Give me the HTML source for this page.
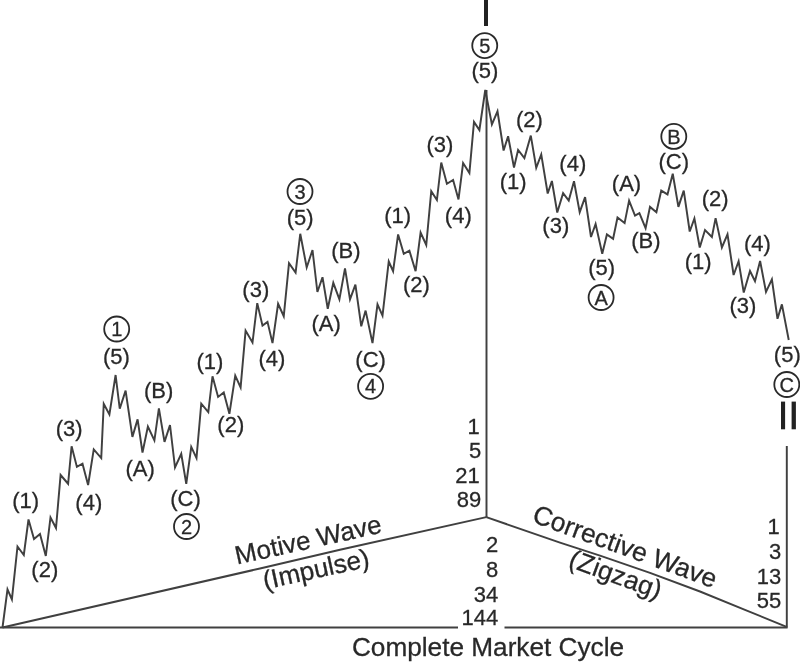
<!DOCTYPE html>
<html lang="en"><head><meta charset="utf-8"><title>Complete Market Cycle</title>
<style>
html,body{margin:0;padding:0;background:#fff;}
body{width:800px;height:663px;overflow:hidden;}
svg{display:block;}
.g{filter:blur(0.75px);}
text{font-family:"Liberation Sans",Arial,Helvetica,sans-serif;fill:#282828;stroke:#282828;stroke-width:0.28px;}
.l{font-size:22px;text-anchor:middle;}
.c{font-size:20px;text-anchor:middle;}
.n{font-size:22px;text-anchor:end;}
.ln{stroke:#404040;stroke-width:1.95;fill:none;}
</style></head><body>
<svg width="800" height="663" viewBox="0 0 800 663">
<rect width="800" height="663" fill="#fff"/>
<g class="g">
<polyline class="ln" stroke-linejoin="miter" points="2.5,627.5 7.5,589.4 11.9,599.4 17.5,546.5 23.8,555 28.5,519.5 34,539 40,534 45.8,556 50.5,517.5 56,528 60.6,475 68.1,483.75 71.6,446.25 76.9,466.9 82.5,463.75 88.1,485 93.75,449.4 101.25,458.1 103.75,403.75 109.4,414.4 115.6,375 119.75,408.75 125.6,390.6 132.4,436.9 137.6,419.4 142.5,452.5 147.9,426.5 154.4,440.3 158.9,408.4 164.5,441.9 170,425 175,467.5 181.25,453.75 186.25,483.75 191.25,446.9 196.5,458.1 201.25,403.75 208.3,412.2 212.5,376.25 218.1,396.9 223.75,392.5 229.4,413.75 235.25,375.6 240.6,387.5 245.6,330.6 252.5,342.5 257.25,303.1 262.5,325.6 267.5,321.9 272.5,343.1 278.1,303.75 283.75,316.25 289,263.1 295.6,272.5 300.25,233.75 306.7,267.5 312.5,250 317.4,292 322.5,277.2 327.75,308.75 333.3,282.8 339.4,299.4 345,268.4 350,299.4 355.4,284.7 361.25,326.25 365.6,310.6 372.5,343.1 377.5,304.4 382.5,315.6 388.75,261.5 393.1,271.25 398.1,234.4 403.75,253.75 409.4,250.6 415.6,271.25 420.6,232.5 426.25,245 431.25,191.25 436.9,200 441.25,162.5 446.9,183.75 453.1,180 458.5,199.4 463.1,163.1 469.4,173.1 474,121.9 479.4,130 485.25,90 491.9,124.4 497.5,111.25 503.6,150.5 508.1,136.3 514,167.5 518.1,150 524.4,158.1 530.8,135.6 536.25,167.8 541.25,154.4 547.7,193.5 551.9,181 557.25,212.5 563.1,193.1 568.75,200.6 574,181.25 579.7,212.2 585.1,197.2 591,237 595.6,224 602.25,253.75 606.9,234.4 613.1,238.75 617.5,217.5 624.6,223.1 629.1,200.6 635,215.6 639.4,213.1 645.6,228.1 650,206.9 656.4,212.2 661.25,190.6 667.5,194.4 672.75,173.75 678.4,206.9 683.75,190.6 689.7,231.5 694.4,218.4 699.75,247.5 705,230 711.9,236.9 715.6,218.1 721.9,247.5 727.5,234.4 733.6,275 738.6,261.25 743.75,292.5 750,271 755,281.25 760.1,261 766,291.9 771.9,279.4 777.5,318.75 781.9,304.4 788.75,340"/>
<line class="ln" x1="486.5" y1="90" x2="486.5" y2="517"/>
<polyline class="ln" points="2.5,627.5 260,568.5 340,549.8 486.3,517.1"/>
<polyline class="ln" points="486.3,517.1 560,542.6 600,555.6 650,572.8 700,591.5 745,609.8 786.6,626.8"/>
<line class="ln" x1="0" y1="627.6" x2="458" y2="627.6" style="stroke-width:2"/>
<line class="ln" x1="504.5" y1="627.6" x2="787.6" y2="627.6" style="stroke-width:2"/>
<line class="ln" x1="786.8" y1="446" x2="786.8" y2="627.5"/>
<rect x="484" y="-6" width="4" height="32" fill="#222"/>
<rect x="781" y="401.6" width="4.1" height="27.7" fill="#222"/>
<rect x="791.6" y="401.6" width="4.3" height="27.7" fill="#222"/>
<text class="l" x="25.6" y="507.5">(1)</text>
<text class="l" x="44.8" y="577.1">(2)</text>
<text class="l" x="69.2" y="436.4">(3)</text>
<text class="l" x="88.8" y="509.6">(4)</text>
<text class="l" x="116.5" y="363.7">(5)</text>
<text class="l" x="140.2" y="475.7">(A)</text>
<text class="l" x="158.6" y="397.8">(B)</text>
<text class="l" x="185.5" y="505.8">(C)</text>
<text class="l" x="210" y="368.7">(1)</text>
<text class="l" x="230.8" y="432.2">(2)</text>
<text class="l" x="255.8" y="296.6">(3)</text>
<text class="l" x="272" y="366.4">(4)</text>
<text class="l" x="300.2" y="224.7">(5)</text>
<text class="l" x="326.2" y="331.3">(A)</text>
<text class="l" x="345.9" y="258.1">(B)</text>
<text class="l" x="370.6" y="366.7">(C)</text>
<text class="l" x="397.7" y="223.3">(1)</text>
<text class="l" x="416.5" y="291.8">(2)</text>
<text class="l" x="440" y="152.3">(3)</text>
<text class="l" x="458.3" y="222.7">(4)</text>
<text class="l" x="485" y="78.1">(5)</text>
<text class="l" x="529.5" y="126.7">(2)</text>
<text class="l" x="513.1" y="188.8">(1)</text>
<text class="l" x="555.8" y="232.8">(3)</text>
<text class="l" x="572.8" y="170.7">(4)</text>
<text class="l" x="601.6" y="274.7">(5)</text>
<text class="l" x="626.5" y="190.7">(A)</text>
<text class="l" x="645.8" y="248.2">(B)</text>
<text class="l" x="673.7" y="168.7">(C)</text>
<text class="l" x="698.2" y="269.4">(1)</text>
<text class="l" x="715.2" y="205.8">(2)</text>
<text class="l" x="743" y="313.0">(3)</text>
<text class="l" x="757.4" y="251.2">(4)</text>
<text class="l" x="787.3" y="361.8">(5)</text>
<circle cx="116.7" cy="329" r="12.5" fill="none" stroke="#2a2a2a" stroke-width="1.8"/><text class="c" x="116.7" y="336.1">1</text>
<circle cx="186.5" cy="526.5" r="12.5" fill="none" stroke="#2a2a2a" stroke-width="1.8"/><text class="c" x="186.5" y="533.6">2</text>
<circle cx="300" cy="191.5" r="12.5" fill="none" stroke="#2a2a2a" stroke-width="1.8"/><text class="c" x="300" y="198.6">3</text>
<circle cx="370.6" cy="386.3" r="12.5" fill="none" stroke="#2a2a2a" stroke-width="1.8"/><text class="c" x="370.6" y="393.40000000000003">4</text>
<circle cx="484.75" cy="45.6" r="12.5" fill="none" stroke="#2a2a2a" stroke-width="1.8"/><text class="c" x="484.75" y="52.7">5</text>
<circle cx="601.1" cy="297.5" r="12.5" fill="none" stroke="#2a2a2a" stroke-width="1.8"/><text class="c" x="601.1" y="304.6">A</text>
<circle cx="673.8" cy="136.4" r="12.5" fill="none" stroke="#2a2a2a" stroke-width="1.8"/><text class="c" x="673.8" y="143.5">B</text>
<circle cx="786.8" cy="384.5" r="12.5" fill="none" stroke="#2a2a2a" stroke-width="1.8"/><text class="c" x="786.8" y="391.6">C</text>
<text class="n" x="479.7" y="434.4">1</text>
<text class="n" x="481.2" y="458">5</text>
<text class="n" x="479.7" y="482.6">21</text>
<text class="n" x="481.2" y="507">89</text>
<text class="n" x="498.2" y="551.6">2</text>
<text class="n" x="498.2" y="576.6">8</text>
<text class="n" x="498.2" y="602">34</text>
<text class="n" x="498.2" y="625.2">144</text>
<text class="n" x="779.8" y="533.5">1</text>
<text class="n" x="781.3" y="558.6">3</text>
<text class="n" x="781.3" y="583.5">13</text>
<text class="n" x="781.3" y="607.6">55</text>
<text transform="translate(310,548.5) rotate(-12.4)" style="font-size:26px;text-anchor:middle">Motive Wave</text>
<text transform="translate(317.8,577.9) rotate(-12.4)" style="font-size:26px;text-anchor:middle">(Impulse)</text>
<text transform="translate(622.0,554.9) rotate(20.1)" style="font-size:26.4px;text-anchor:middle">Corrective Wave</text>
<text transform="translate(612.6,582.7) rotate(20.1)" style="font-size:26.3px;text-anchor:middle">(Zigzag)</text>
<text x="488" y="656" style="font-size:26.2px;text-anchor:middle">Complete Market Cycle</text>
</g>
</svg></body></html>
